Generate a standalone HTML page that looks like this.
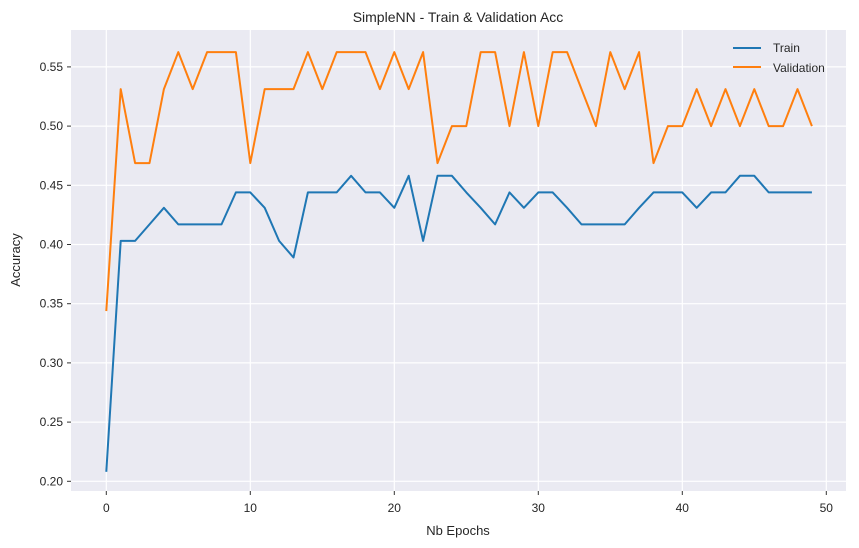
<!DOCTYPE html>
<html><head><meta charset="utf-8"><style>
html,body{margin:0;padding:0;background:#fff;}
svg{display:block;font-family:"Liberation Sans","DejaVu Sans",sans-serif;}
</style></head><body>
<svg id="s" width="859" height="548" viewBox="0 0 859 548" xmlns="http://www.w3.org/2000/svg">
<rect x="0" y="0" width="859" height="548" fill="#fff"/>
<rect x="71" y="30" width="775" height="461" fill="#eaeaf2"/>
<g id="grid" stroke="#fff" stroke-width="1.2"></g>
<g id="ticks" stroke="#333" stroke-width="1"></g>
<g id="labels" font-size="12" fill="#262626"></g>
<polyline id="train" fill="none" stroke="#1f77b4" stroke-width="2" stroke-linejoin="round"/>
<polyline id="val" fill="none" stroke="#ff7f0e" stroke-width="2" stroke-linejoin="round"/>
<line x1="733" y1="48" x2="761" y2="48" stroke="#1f77b4" stroke-width="2"/>
<line x1="733" y1="67" x2="761" y2="67" stroke="#ff7f0e" stroke-width="2"/>
<text x="773" y="52" font-size="12" fill="#262626">Train</text>
<text x="773" y="72" font-size="12" fill="#262626">Validation</text>
<text x="458" y="22" font-size="14" fill="#262626" text-anchor="middle">SimpleNN - Train &amp; Validation Acc</text>
<text x="458" y="535" font-size="13" fill="#262626" text-anchor="middle">Nb Epochs</text>
<text x="20" y="260" font-size="13" fill="#262626" text-anchor="middle" transform="rotate(-90 20 260)">Accuracy</text>
</svg>
<script>
var X=function(e){return 106.3+e*14.4;};
var Y=function(v){return 481.3-(v-0.2)*1184;};
var g=document.getElementById('grid'),t=document.getElementById('ticks'),l=document.getElementById('labels');
var ns='http://www.w3.org/2000/svg';
function el(p,n,a,txt){var e=document.createElementNS(ns,n);for(var k in a)e.setAttribute(k,a[k]);if(txt)e.textContent=txt;p.appendChild(e);}
for(var i=0;i<=50;i+=10){var x=X(i);el(g,'line',{x1:x,y1:30,x2:x,y2:491});el(t,'line',{x1:x,y1:491,x2:x,y2:495});el(l,'text',{x:x,y:512,'text-anchor':'middle'},String(i));}
for(var j=0;j<=7;j++){var v=0.2+j*0.05,y=Y(v);el(g,'line',{x1:71,y1:y,x2:846,y2:y});el(t,'line',{x1:67,y1:y,x2:71,y2:y});el(l,'text',{x:63,y:y+4,'text-anchor':'end'},v.toFixed(2));}
var tr=[0.208,0.403,0.403,0.417,0.431,0.417,0.417,0.417,0.417,0.444,0.444,0.431,0.403,0.389,0.444,0.444,0.444,0.458,0.444,0.444,0.431,0.458,0.403,0.458,0.458,0.444,0.431,0.417,0.444,0.431,0.444,0.444,0.431,0.417,0.417,0.417,0.417,0.431,0.444,0.444,0.444,0.431,0.444,0.444,0.458,0.458,0.444,0.444,0.444,0.444];
var a=0.34375,b=0.53125,c=0.46875,d=0.5,m=0.5625;
var va=[a,b,c,c,b,m,b,m,m,m,c,b,b,b,m,b,m,m,m,b,m,b,m,c,d,d,m,m,d,m,d,m,m,b,d,m,b,m,c,d,d,b,d,b,d,b,d,d,b,d];
function pts(arr){return arr.map(function(v,i){return X(i).toFixed(1)+','+Y(v).toFixed(1);}).join(' ');}
document.getElementById('train').setAttribute('points',pts(tr));
document.getElementById('val').setAttribute('points',pts(va));
</script>
</body></html>
